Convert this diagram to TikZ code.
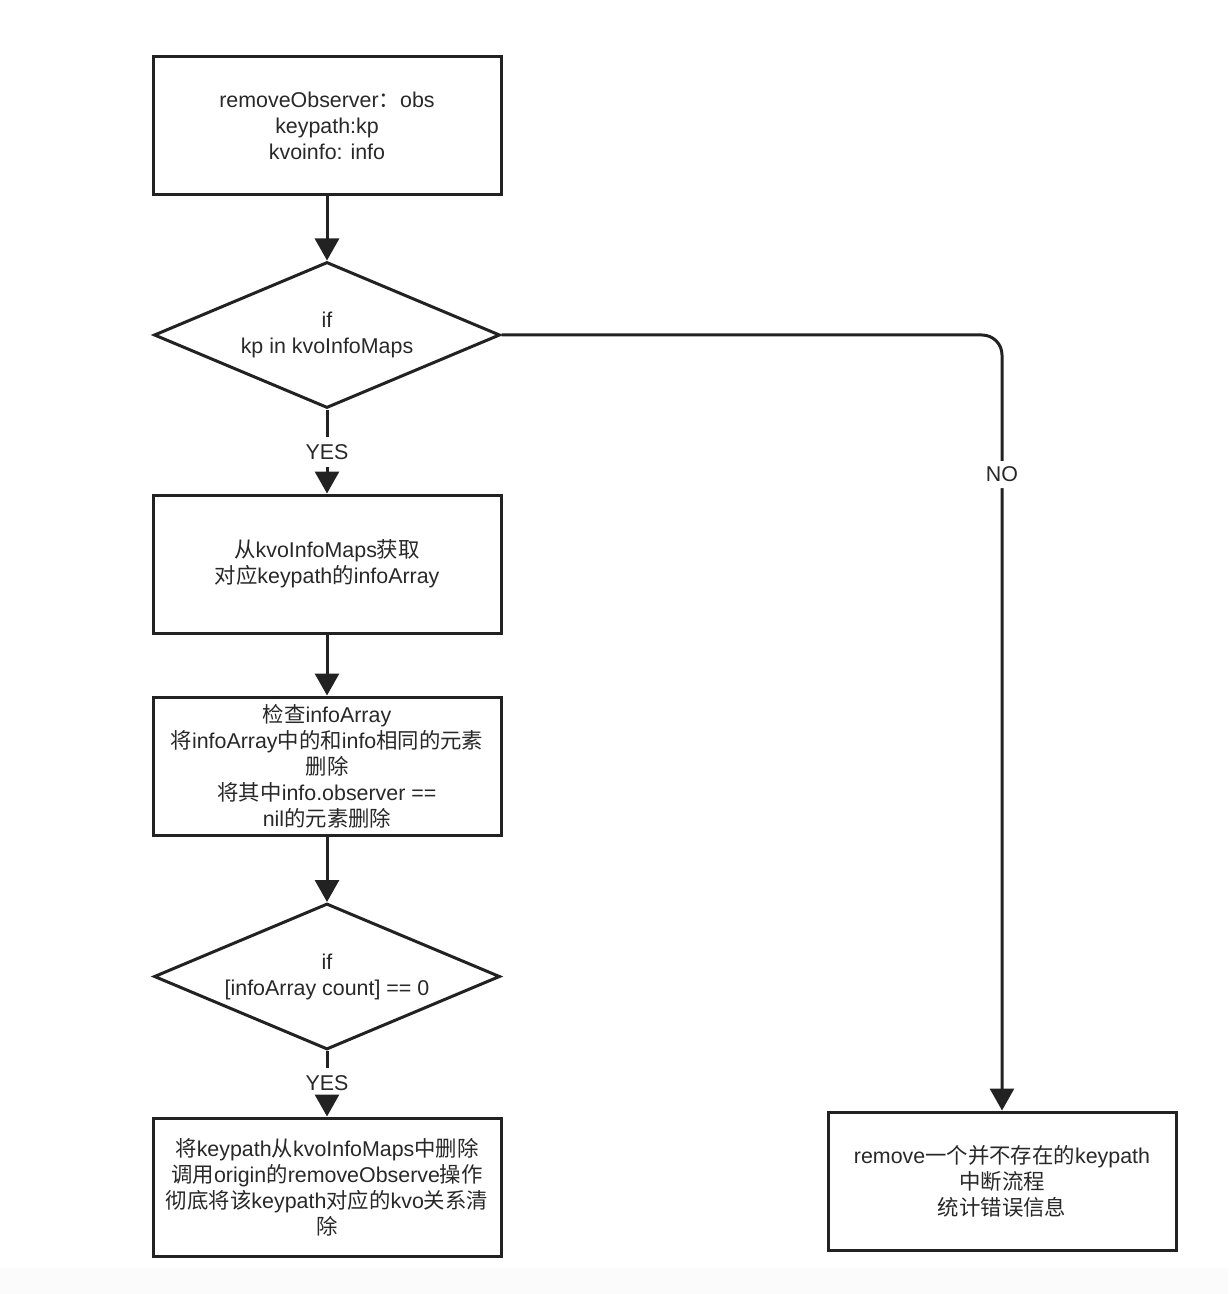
\documentclass[tikz,border=0pt]{standalone}
\usepackage{fontspec}
\setmainfont{Liberation Sans}
\newfontfamily\cjk{Noto Sans CJK SC}
\usetikzlibrary{shapes.geometric,arrows.meta}
\definecolor{lin}{RGB}{34,34,34}
\definecolor{txt}{RGB}{40,40,40}
\newcommand{\zh}[1]{{\cjk #1}}

\begin{document}
\begin{tikzpicture}[x=0.5pt,y=-0.5pt,
    every node/.style={font=\fontsize{10.7}{13}\selectfont, text=txt, align=center},
    stepbox/.style={draw=lin, line width=1.5pt, rectangle, minimum width=174pt, minimum height=69pt, inner sep=0pt},
    decision/.style={draw=lin, line width=1.5pt, diamond, aspect=2.37, minimum width=173pt, minimum height=73pt, inner sep=0pt},
    flow/.style={draw=lin, line width=1.5pt, -{Triangle[width=12pt,length=11pt]}},
    plain/.style={draw=lin, line width=1.5pt}]
    % page and faint strip at the foot
    \useasboundingbox (0,0) rectangle (1228,1294);
    \fill[gray!3] (0,1268) rectangle (1228,1294);
    % left column
    \node[stepbox] (start) at (327,125.5) {removeObserver\zh{：}obs\\keypath:kp\\kvoinfo: info};
    \node[decision] (ifkp) at (327,335) {if\\kp in kvoInfoMaps};
    \node (yesa) at (327,452) {YES};
    \node[stepbox] (fetch) at (327,564) {\zh{从}kvoInfoMaps\zh{获取}\\\zh{对应}keypath\zh{的}infoArray};
    \node[stepbox] (check) at (327,766) {\zh{检查}infoArray\\\zh{将}infoArray\zh{中的和}info\zh{相同的元素}\\\zh{删除}\\\zh{将其中}info.observer ==\\nil\zh{的元素删除}};
    \node[decision] (ifcnt) at (327,976.5) {if\\{[}infoArray count{]} == 0};
    \node (yesb) at (327,1083) {YES};
    \node[stepbox] (clear) at (327,1187) {\zh{将}keypath\zh{从}kvoInfoMaps\zh{中删除}\\\zh{调用}origin\zh{的}removeObserve\zh{操作}\\\zh{彻底将该}keypath\zh{对应的}kvo\zh{关系清}\\\zh{除}};
    % right column
    \node[stepbox] (fail) at (1002,1181) {remove\zh{一个并不存在的}keypath\\\zh{中断流程}\\\zh{统计错误信息}};
    % connectors
    \draw[flow] (start) -- (ifkp);
    \draw[plain] (ifkp.south) -- (yesa.north);
    \draw[flow] (yesa.south) -- (fetch.north);
    \draw[flow] (fetch) -- (check);
    \draw[flow] (check) -- (ifcnt);
    \draw[plain] (ifcnt.south) -- (yesb.north);
    \draw[flow] (yesb.south) -- (clear.north);
    \draw[flow, rounded corners=10pt] (ifkp.east) -| node[pos=0.59, fill=white, inner sep=3pt] {NO} (fail.north);
\end{tikzpicture}
\end{document}
